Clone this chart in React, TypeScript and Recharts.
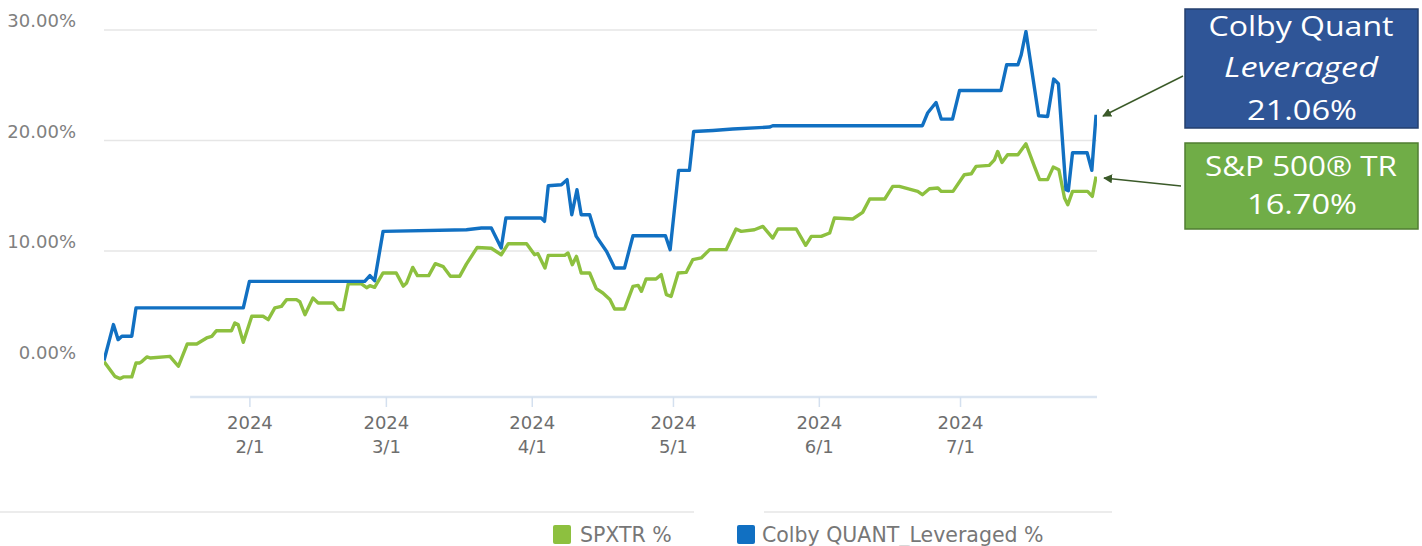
import React from "react";
import { LineChart, Line, XAxis, YAxis, ReferenceLine } from "recharts";

// x values: days since 2024-01-01
const colbyDays = [0, 2.0, 3.0, 3.8, 5.9, 6.8, 29.6, 30.9, 51.2, 55.4, 56.5, 57.5, 59.3, 77.0, 80.2, 82.3, 84.4, 85.4, 92.9, 93.6, 94.4, 97.2, 98.4, 99.4, 100.5, 101.4, 103.2, 104.6, 106.8, 108.5, 110.6, 112.4, 119.3, 120.3, 122.1, 124.4, 125.3, 129.4, 133.6, 141.4, 142.1, 173.9, 175.0, 176.8, 177.9, 180.3, 181.8, 190.6, 191.8, 194.2, 194.9, 195.9, 198.6, 200.5, 201.8, 202.8, 204.4, 204.9, 205.8, 208.9, 209.9, 210.8];
const colbyPct = [0.1, 3.35, 1.99, 2.29, 2.29, 4.86, 4.86, 7.26, 7.26, 7.26, 7.78, 7.32, 11.78, 11.93, 12.09, 12.09, 10.28, 12.99, 12.99, 12.69, 15.91, 16.0, 16.46, 13.29, 15.55, 13.29, 13.29, 11.33, 9.97, 8.47, 8.47, 11.39, 11.39, 10.13, 17.3, 17.3, 20.82, 20.91, 21.04, 21.22, 21.34, 21.34, 22.49, 23.44, 21.94, 21.94, 24.53, 24.53, 26.85, 26.85, 27.76, 29.86, 22.24, 22.18, 25.56, 25.14, 15.55, 15.46, 18.9, 18.9, 17.31, 22.33];

const spxDays = [0, 2.3, 3.4, 4.1, 5.9, 6.8, 7.6, 8.1, 9.1, 9.8, 14.0, 15.8, 17.7, 19.7, 21.8, 22.9, 23.9, 27.1, 27.8, 28.5, 29.6, 31.4, 33.8, 34.9, 36.3, 37.7, 38.8, 40.9, 41.6, 42.7, 44.4, 45.5, 48.7, 49.8, 50.8, 51.9, 54.7, 55.8, 56.5, 57.5, 59.3, 62.1, 63.6, 64.3, 65.6, 66.6, 69.0, 70.4, 72.1, 73.6, 75.6, 77.0, 79.3, 82.3, 84.4, 85.9, 89.8, 91.5, 92.2, 93.7, 94.4, 97.9, 98.6, 99.5, 100.4, 101.4, 103.2, 104.6, 106.0, 107.5, 108.5, 110.6, 112.4, 113.5, 114.2, 115.2, 117.3, 118.4, 119.5, 120.5, 122.0, 123.7, 125.1, 126.9, 128.7, 132.2, 134.3, 135.4, 138.2, 140.0, 142.1, 143.2, 147.1, 149.1, 150.3, 152.4, 154.2, 155.2, 159.1, 161.2, 162.7, 165.9, 167.6, 169.0, 172.9, 173.9, 175.4, 177.2, 177.9, 180.4, 182.8, 184.3, 185.3, 188.1, 189.2, 189.9, 190.8, 192.0, 194.2, 195.9, 197.7, 198.8, 200.5, 201.7, 202.9, 204.1, 204.8, 205.8, 209.0, 210.0, 210.8];
const spxPct = [0, -1.33, -1.54, -1.38, -1.38, -0.12, -0.12, 0.03, 0.42, 0.33, 0.48, -0.42, 1.6, 1.6, 2.14, 2.29, 2.8, 2.8, 3.5, 3.35, 1.75, 4.1, 4.1, 3.8, 4.86, 5.0, 5.61, 5.61, 5.42, 4.25, 5.76, 5.31, 5.31, 4.7, 4.7, 7.03, 7.03, 6.69, 6.87, 6.72, 8.02, 8.02, 6.83, 7.12, 8.52, 7.78, 7.78, 8.86, 8.59, 7.73, 7.73, 8.82, 10.33, 10.26, 9.67, 10.67, 10.67, 9.67, 9.76, 8.47, 9.61, 9.61, 9.83, 8.77, 9.52, 8.02, 8.02, 6.6, 6.21, 5.61, 4.76, 4.76, 6.81, 6.9, 6.36, 7.48, 7.48, 7.87, 6.06, 5.9, 8.02, 8.07, 9.22, 9.38, 10.13, 10.13, 12.0, 11.78, 11.93, 12.23, 11.18, 12.0, 12.0, 10.52, 11.33, 11.33, 11.64, 12.99, 12.9, 13.5, 14.71, 14.71, 15.85, 15.85, 15.4, 15.1, 15.64, 15.71, 15.4, 15.4, 16.91, 17.0, 17.66, 17.75, 18.26, 19.01, 18.02, 18.72, 18.72, 19.71, 17.66, 16.46, 16.46, 17.6, 17.36, 14.8, 14.2, 15.4, 15.4, 14.95, 16.75];

const tickDays = [31, 60, 91, 121, 152, 182];
const tickLabels = ["2/1", "3/1", "4/1", "5/1", "6/1", "7/1"];
const tickYear = "2024";
const yTicks = [0, 10, 20, 30];
const gridValues = [10, 20, 30];

const seriesNames = ["SPXTR %", "Colby QUANT_Leveraged %"];
const calloutColby = ["Colby Quant", "Leveraged", "21.06%"];
const calloutSpx = ["S&P 500® TR", "16.70%"];

const BLUE = "#1170c2";
const GREEN = "#8dc03f";
const FONT = "'DejaVu Sans', Verdana, sans-serif";

const colbyData = colbyDays.map((d, i) => ({ day: d, colby: colbyPct[i] }));
const spxData = spxDays.map((d, i) => ({ day: d, spx: spxPct[i] }));

const XTick = (props: any) => {
  const { x, y, payload } = props;
  const idx = tickDays.indexOf(payload.value);
  return (
    <g>
      <text x={x} y={y} dy={13} textAnchor="middle" dominantBaseline="central" fontSize={18} fill="#6e6e6e" fontFamily={FONT}>
        {tickYear}
      </text>
      <text x={x} y={y} dy={37} textAnchor="middle" dominantBaseline="central" fontSize={18} fill="#6e6e6e" fontFamily={FONT}>
        {tickLabels[idx]}
      </text>
    </g>
  );
};

const YTick = (props: any) => {
  const { y, payload } = props;
  return (
    <text x={76} y={y - 9.5} textAnchor="end" dominantBaseline="central" fontSize={18} fill="#808080" fontFamily={FONT}>
      {Number(payload.value).toFixed(2) + "%"}
    </text>
  );
};

export default function App() {
  return (
    <div style={{ position: "relative", width: 1422, height: 546, background: "#fff", overflow: "hidden" }}>
      <style>{"body{margin:0;}"}</style>
      <div style={{ position: "absolute", left: 0, top: 0 }}>
        <LineChart width={1110} height={460} margin={{ top: 30, right: 13, left: 0, bottom: 0 }}>
          <XAxis
            type="number"
            dataKey="day"
            domain={[0, 211]}
            allowDataOverflow
            ticks={tickDays}
            interval={0}
            height={63}
            axisLine={false}
            tickLine={{ stroke: "#d4e0ef", strokeWidth: 1.5 }}
            tickSize={10}
            tick={<XTick />}
          />
          <YAxis
            type="number"
            domain={[-3.2, 30]}
            allowDataOverflow
            ticks={yTicks}
            interval={0}
            width={104}
            axisLine={false}
            tickLine={false}
            tick={<YTick />}
          />
          {gridValues.map((v) => (
            <ReferenceLine key={v} y={v} stroke="#e6e6e6" strokeWidth={1.5} />
          ))}
          <ReferenceLine
            segment={[
              { x: 18.3, y: -3.2 },
              { x: 211, y: -3.2 },
            ]}
            stroke="#dbe5f1"
            strokeWidth={2.5}
          />
          <Line
            data={spxData}
            dataKey="spx"
            type="linear"
            stroke={GREEN}
            strokeWidth={3.4}
            dot={false}
            strokeLinejoin="round"
            isAnimationActive={false}
          />
          <Line
            data={colbyData}
            dataKey="colby"
            type="linear"
            stroke={BLUE}
            strokeWidth={3.4}
            dot={false}
            strokeLinejoin="round"
            isAnimationActive={false}
          />
        </LineChart>
      </div>

      {/* legend separator */}
      <div style={{ position: "absolute", left: 0, top: 511, width: 694, height: 2, background: "#ececec" }} />
      <div style={{ position: "absolute", left: 764, top: 511, width: 348, height: 2, background: "#ececec" }} />

      {/* legend */}
      <div style={{ position: "absolute", left: 553, top: 525, width: 18, height: 19, background: GREEN, borderRadius: 2 }} />
      <div style={{ position: "absolute", left: 580, top: 522, fontFamily: FONT, fontSize: 20.5, color: "#777", lineHeight: "26px", whiteSpace: "nowrap" }}>
        {seriesNames[0]}
      </div>
      <div style={{ position: "absolute", left: 737, top: 525, width: 18, height: 19, background: BLUE, borderRadius: 2 }} />
      <div style={{ position: "absolute", left: 762, top: 522, fontFamily: FONT, fontSize: 20.5, color: "#777", lineHeight: "26px", whiteSpace: "nowrap" }}>
        {seriesNames[1]}
      </div>

      {/* callouts */}
      <svg width={1422} height={546} style={{ position: "absolute", left: 0, top: 0, pointerEvents: "none" }}>
        <defs>
          <marker id="arr" viewBox="0 0 10 10" refX="9" refY="5" markerWidth="9" markerHeight="9" orient="auto-start-reverse" markerUnits="userSpaceOnUse">
            <path d="M0,0 L10,5 L0,10 z" fill="#3b5a29" />
          </marker>
        </defs>
        <line x1={1183} y1={76} x2={1103} y2={116} stroke="#3b5a29" strokeWidth={1.5} markerEnd="url(#arr)" />
        <line x1={1181} y1={186} x2={1104} y2={178} stroke="#3b5a29" strokeWidth={1.5} markerEnd="url(#arr)" />

        <rect x={1185} y={9} width={233} height={119} fill="#2f5597" stroke="#243f6e" strokeWidth={1.5} />
        <text x={1301} y={36} textAnchor="middle" fontSize={28} fill="#fff" fontFamily="'Open Sans', sans-serif" textLength={185} lengthAdjust="spacingAndGlyphs">
          {calloutColby[0]}
        </text>
        <text x={1301} y={77} textAnchor="middle" fontSize={28} fill="#fff" fontStyle="italic" fontFamily="'Open Sans', sans-serif" textLength={154} lengthAdjust="spacingAndGlyphs">
          {calloutColby[1]}
        </text>
        <text x={1302} y={120} textAnchor="middle" fontSize={28} fill="#fff" fontFamily="'Open Sans', sans-serif" textLength={110} lengthAdjust="spacingAndGlyphs">
          {calloutColby[2]}
        </text>

        <rect x={1185} y={143} width={233} height={86} fill="#70ad47" stroke="#507e32" strokeWidth={1.5} />
        <text x={1301} y={176} textAnchor="middle" fontSize={28} fill="#fff" fontFamily="'Open Sans', sans-serif" textLength={192} lengthAdjust="spacingAndGlyphs">
          {calloutSpx[0]}
        </text>
        <text x={1302} y={214} textAnchor="middle" fontSize={28} fill="#fff" fontFamily="'Open Sans', sans-serif" textLength={110} lengthAdjust="spacingAndGlyphs">
          {calloutSpx[1]}
        </text>
      </svg>
    </div>
  );
}
